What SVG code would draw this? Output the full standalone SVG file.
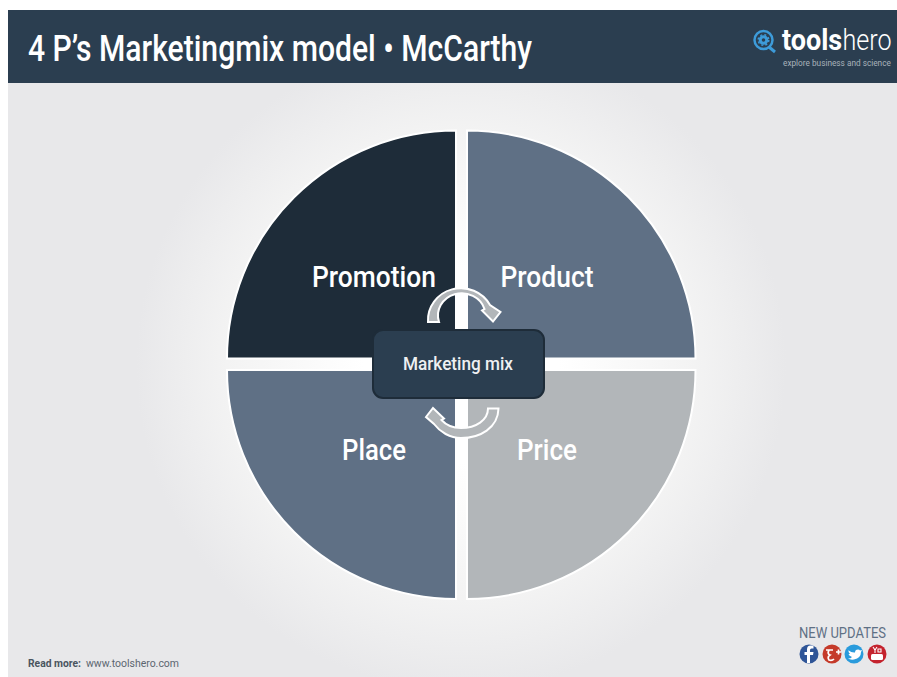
<svg xmlns="http://www.w3.org/2000/svg" width="897" height="677" viewBox="0 0 897 677">
<style>
text{font-family:Roboto,"Liberation Sans",sans-serif}
.q{stroke:#fff;stroke-width:2}
.lbl{fill:#fff;font-size:30px;font-weight:500;text-anchor:middle}
.arw{fill:#b2b6b9;stroke:#fff;stroke-width:2;stroke-linejoin:miter}
</style>
<defs>
<radialGradient id="bg" gradientUnits="userSpaceOnUse" cx="461" cy="365" r="325">
<stop offset="0.3" stop-color="#fff"/><stop offset="0.72" stop-color="#f3f3f3"/><stop offset="1" stop-color="#e8e8ea"/>
</radialGradient>
</defs>
<rect x="0" y="0" width="897" height="677" fill="#fff"/>
<rect id="background" x="8" y="83" width="889" height="594" fill="url(#bg)"/>
<g id="header">
<rect x="8" y="10" width="889" height="73" fill="#2b3e50"/>
<text x="28" y="61" fill="#fff" font-size="36" font-weight="500" textLength="504" lengthAdjust="spacingAndGlyphs">4 P’s Marketingmix model • McCarthy</text>
</g>
<g id="logo">
<circle cx="763.500" cy="40" r="9" fill="none" stroke="#3d9bd9" stroke-width="2.500"/>
<circle cx="763.500" cy="40" r="3.300" fill="none" stroke="#3d9bd9" stroke-width="3"/>
<circle cx="763.500" cy="40" r="5.300" fill="none" stroke="#3d9bd9" stroke-width="1.500" stroke-dasharray="2 2.200"/>
<path d="M769 47l6 5" stroke="#3d9bd9" stroke-width="3"/>
<text transform="translate(782 50) scale(.9 1)" fill="#fff" font-size="30" font-weight="700">tools</text>
<text transform="translate(842.500 50) scale(.84 1)" fill="#fff" font-size="30" font-weight="300">hero</text>
<text transform="translate(783 66) scale(.87 1)" fill="#a9b2ba" font-size="9.500">explore business and science</text>
</g>
<g id="promotion">
<path class="q" d="M456 130.500A229 228 0 0 0 227 358.500H456Z" fill="#1e2c39"/>
<text class="lbl" x="374" y="287" textLength="124" lengthAdjust="spacingAndGlyphs">Promotion</text>
</g>
<g id="product">
<path class="q" d="M467 130.500A228.500 228 0 0 1 695.500 358.500H467Z" fill="#5f7085"/>
<text class="lbl" x="547" y="287" textLength="93" lengthAdjust="spacingAndGlyphs">Product</text>
</g>
<g id="place">
<path class="q" d="M456 599A229 229 0 0 1 227 370H456Z" fill="#5f7085"/>
<text class="lbl" x="374" y="460" textLength="64" lengthAdjust="spacingAndGlyphs">Place</text>
</g>
<g id="price">
<path class="q" d="M467 599A228.500 229 0 0 0 695.500 370H467Z" fill="#b2b6b9"/>
<text class="lbl" x="547" y="460" textLength="60" lengthAdjust="spacingAndGlyphs">Price</text>
</g>
<g id="connectors">
<path class="arw" d="M428 322A33 32 0 0 1 490 305L500.500 312L493 321.500L482 310.500L484.500 309A22.500 21 0 0 0 439 322Z"/>
<path class="arw" d="M498.500 408.500C498 428 480 438 461 438C450 438 440 432 434 424L426 417L433 408L444 418.500L441.500 420C446 425 453 428 461 428C476 428 488 420 488 408.500Z"/>
</g>
<g id="marketing-mix">
<rect x="373" y="330" width="171" height="68" rx="10" fill="#2b3e50" stroke="#1e2c39" stroke-width="2"/>
<text x="458" y="370" fill="#eef0f2" font-size="19" font-weight="500" text-anchor="middle" textLength="110" lengthAdjust="spacingAndGlyphs">Marketing mix</text>
</g>
<g id="footer">
<text x="28" y="667" fill="#4a5560" font-size="11" font-weight="700" textLength="53" lengthAdjust="spacingAndGlyphs">Read more:</text>
<text x="86" y="667" fill="#5c6670" font-size="11.500" textLength="93" lengthAdjust="spacingAndGlyphs">www.toolshero.com</text>
<text x="799" y="638" fill="#5f7085" font-size="14.500" textLength="87" lengthAdjust="spacingAndGlyphs">NEW UPDATES</text>
</g>
<g id="social">
<circle cx="809" cy="654" r="9.500" fill="#2f5597"/>
<circle cx="832" cy="654" r="9.500" fill="#c53a2a"/>
<circle cx="854" cy="654" r="9.500" fill="#2a9bdc"/>
<circle cx="877" cy="654" r="9.500" fill="#c4232e"/>
<path d="M810 663v-8h3l.5-3h-3.500v-2q0-1.500 1.500-1.500h2v-3h-3q-3.500 0-3.500 4v2.500h-2.500v3h2.500v8Z" fill="#fff"/>
<path d="M826 650h7M829 650q-2 4 1 5q-3 2-1 5q3 1 5-1M836 652h5M838.500 649.500v5" fill="none" stroke="#fff" stroke-width="1.700"/>
<path d="M848 650q4 3 7 2.500q0-3 3-3q1.500 0 2 1l2-.5-1 2q0 6-7 7.500q-4 .5-6-1q3 0 4-1.500q-3-1-3.500-3h1.500q-2-1.500-1.500-4Z" fill="#fff"/>
<rect x="871" y="654" width="12" height="6" rx="1.500" fill="#fff"/>
<path d="M873 647l2 3 2-3M875 650v3M878 649h3v3h-3Z" fill="none" stroke="#fff" stroke-width="1.100"/>
</g>
</svg>
